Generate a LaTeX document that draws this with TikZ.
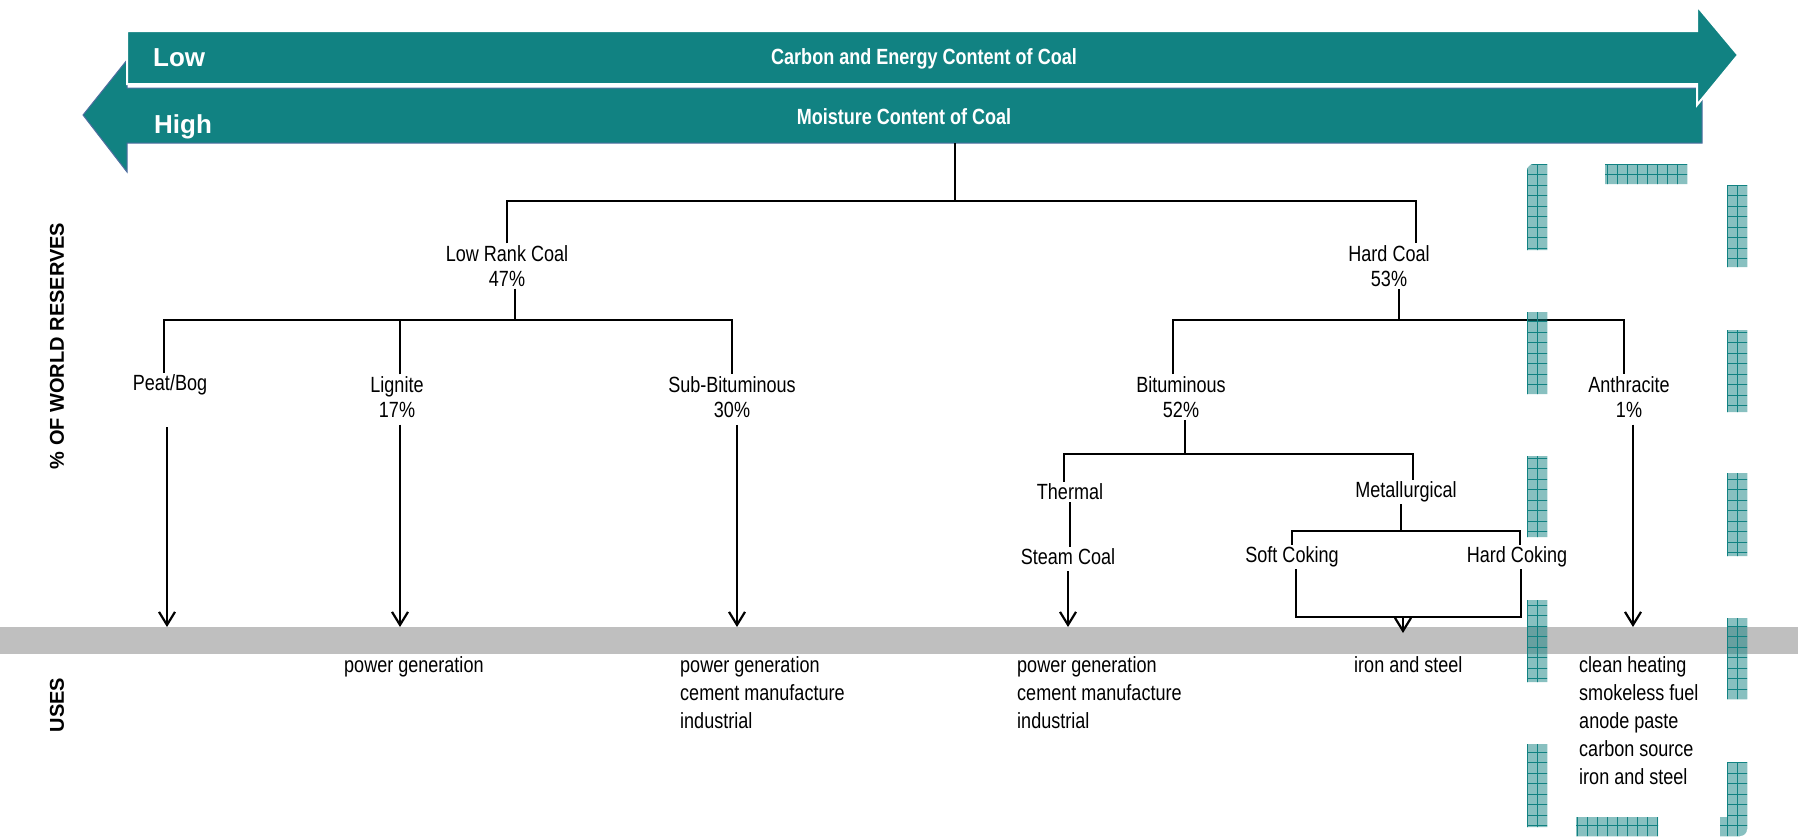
\documentclass[tikz,border=0pt]{standalone}
\usepackage{fontspec}
\setmainfont{Liberation Sans}
\newfontfamily\narrowfont[FakeStretch=0.82]{Liberation Sans}
\usetikzlibrary{arrows.meta}
\definecolor{coalteal}{RGB}{17,130,130}
\definecolor{arrowedge}{RGB}{80,110,160}

\begin{document}
\begin{tikzpicture}[x=1pt,y=-1pt,
  coal/.style={font=\narrowfont\fontsize{22}{25}\selectfont,align=center,inner sep=2pt},
  uses/.style={font=\narrowfont\fontsize{22}{28}\selectfont,align=left,anchor=north west,inner sep=0pt},
  headtxt/.style={text=white,font=\bfseries\fontsize{26}{30}\selectfont,inner sep=0pt},
  bandtxt/.style={text=white,font=\narrowfont\bfseries\fontsize{22}{26}\selectfont,inner sep=0pt},
  axis/.style={font=\bfseries\fontsize{20}{24}\selectfont,rotate=90},
  link/.style={line width=2pt},
  flow/.style={link,-{Straight Barb[length=13pt,width=16pt,line width=2.2pt]}},
  hatchgrid/.style={coalteal,line width=1pt}]
\useasboundingbox (0,0) rectangle (1798,836);

% teal scale arrows
\draw[fill=coalteal,draw=arrowedge,line width=1pt] (1702,88) -- (127,88) -- (127,60) -- (83,115) -- (127,172) -- (127,143) -- (1702,143) -- cycle;
\draw[fill=coalteal,draw=white,line width=2pt] (127,31) -- (1697,31) -- (1697,6) -- (1738,55) -- (1697,105) -- (1697,84) -- (127,84) -- cycle;
\node[headtxt,anchor=base west] (low) at (153,66) {Low};
\node[headtxt,anchor=base west] (high) at (154,133) {High};
\node[bandtxt,anchor=base] (carbon) at (924,64) {Carbon and Energy Content of Coal};
\node[bandtxt,anchor=base] (moisture) at (904,124) {Moisture Content of Coal};

% uses band
\node[fill=black!25,minimum width=1798pt,minimum height=27pt,inner sep=0pt,outer sep=0pt] (band) at (899,640.5) {};

\node[axis] (reserves) at (57,346) {\% OF WORLD RESERVES};
\node[axis] (usesaxis) at (57,705) {USES};

% coal types
\coordinate (root) at (955,143);
\coordinate (rootbus) at (955,201);
\node[coal] (lowrank) at (507,266) {Low Rank Coal\\47\%};
\node[coal] (hardcoal) at (1389,266) {Hard Coal\\53\%};
\coordinate (lowbus) at (515,320);
\coordinate (hardbus) at (1399,320);
\node[coal] (peat) at (170,385) {Peat/Bog};
\node[coal] (lignite) at (397,397) {Lignite\\17\%};
\node[coal] (subbit) at (732,397) {Sub-Bituminous\\30\%};
\node[coal] (bitum) at (1181,397) {Bituminous\\52\%};
\node[coal] (anthra) at (1629,397) {Anthracite\\1\%};
\coordinate (bitbus) at (1185,454);
\node[coal] (thermal) at (1070,492) {Thermal};
\node[coal] (metall) at (1406,492) {Metallurgical};
\coordinate (metbus) at (1401,531);
\node[coal] (steam) at (1068,557) {Steam Coal};
\node[coal] (softc) at (1292,557) {Soft Coking};
\node[coal] (hardc) at (1517,557) {Hard Coking};
\coordinate (cokebus) at (1403,617);
\coordinate (cokeend) at (1403,633);

\draw[link] (root) -- (rootbus);
\draw[link] (lowrank.north) |- (rootbus) -| ([xshift=27pt]hardcoal.north);
\draw[link] (lowbus |- lowrank.south) -- (lowbus);
\draw[link] ([xshift=-6pt]peat.north) |- (lowbus) -| (subbit.north);
\draw[link] ([xshift=3pt]lignite.north) -- ([xshift=3pt]lignite.north |- lowbus);
\draw[link] (hardbus |- hardcoal.south) -- (hardbus);
\draw[link] ([xshift=-8pt]bitum.north) |- (hardbus) -| ([xshift=-5pt]anthra.north);
\draw[link] (bitbus |- bitum.south) -- (bitbus);
\draw[link] ([xshift=-6pt]thermal.north) |- (bitbus) -| ([xshift=7pt]metall.north);
\draw[link] (thermal.south) -- (thermal.south |- steam.north);
\draw[link] (metbus |- metall.south) -- (metbus);
\draw[link] (softc.north) |- (metbus) -| ([xshift=3pt]hardc.north);
\draw[link] ([xshift=4pt]softc.south) |- (cokebus) -| ([xshift=4pt]hardc.south);

\draw[flow] ([yshift=-30pt,xshift=-3pt]peat.south) -- ([xshift=-3pt]peat.south |- band.north);
\draw[flow] ([yshift=-5pt,xshift=3pt]lignite.south) -- ([xshift=3pt]lignite.south |- band.north);
\draw[flow] ([yshift=-5pt,xshift=5pt]subbit.south) -- ([xshift=5pt]subbit.south |- band.north);
\draw[flow] ([yshift=-4pt]steam.south) -- (steam.south |- band.north);
\draw[flow] (cokebus) -- (cokeend);
\draw[flow] ([yshift=-5pt,xshift=4pt]anthra.south) -- ([xshift=4pt]anthra.south |- band.north);

% uses
\node[uses] (liguse) at (344,656) {power generation};
\node[uses] (subuse) at (680,656) {power generation\\cement manufacture\\industrial};
\node[uses] (steamuse) at (1017,656) {power generation\\cement manufacture\\industrial};
\node[uses] (cokeuse) at (1354,656) {iron and steel};
\node[uses] (anthuse) at (1579,656) {clean heating\\smokeless fuel\\anode paste\\carbon source\\iron and steel};

% hatched dashed frame round anthracite
\begin{scope}
\clip (1527,250) -- (1527,171) .. controls (1527,167) and (1530,164) .. (1534,164) -- (1547,164) -- (1547,250) -- cycle
  (1527,312) rectangle (1547,394) (1527,456) rectangle (1547,537)
  (1527,600) rectangle (1547,682) (1527,744) rectangle (1547,827)
  (1605,164) rectangle (1687,184) (1576,817) rectangle (1658,836)
  (1727,185) rectangle (1747,267) (1727,330) rectangle (1747,412)
  (1727,473) rectangle (1747,556) (1727,618) rectangle (1747,699)
  (1727,762) -- (1747,762) -- (1747,829) .. controls (1747,833) and (1744,836) .. (1740,836) -- (1720,836) -- (1720,817) -- (1727,817) -- cycle;
\fill[coalteal,opacity=0.5] (1515,155) rectangle (1765,840);
\foreach \g in {1517,1527,...,1757} \draw[hatchgrid] (\g,155) -- (\g,840);
\foreach \g in {164,174.5,...,840} \draw[hatchgrid] (1515,\g) -- (1765,\g);
\end{scope}
\end{tikzpicture}
\end{document}
